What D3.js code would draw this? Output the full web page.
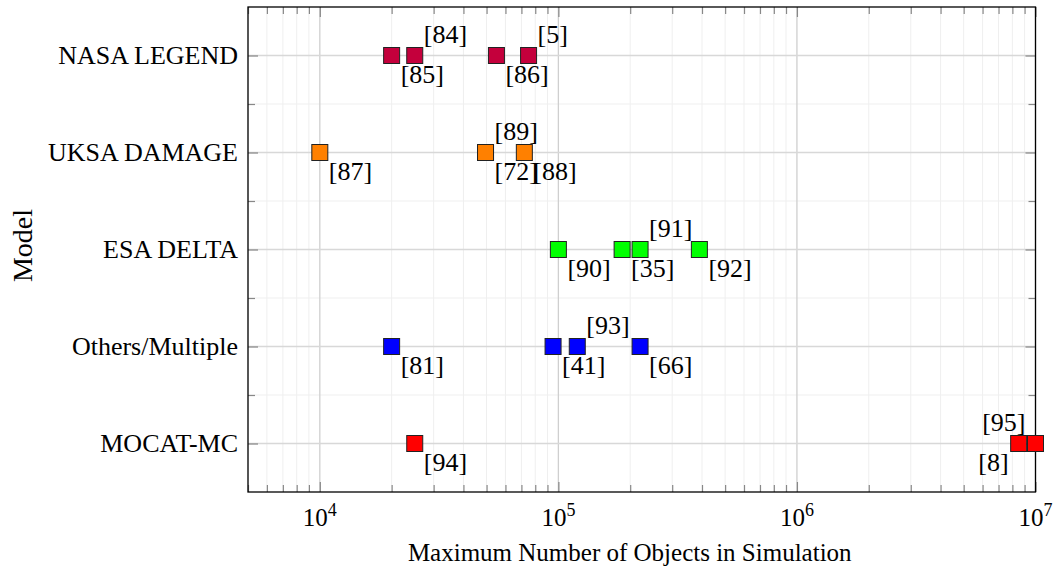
<!DOCTYPE html>
<html>
<head>
<meta charset="utf-8">
<script src="https://cdn.jsdelivr.net/npm/d3@7"></script>
<style>
  body { margin: 0; background: #fff; }
  svg text { font-family: "Liberation Serif", "Times New Roman", serif; fill: #000; }
</style>
</head>
<body>
<svg id="chart" width="1055" height="571"></svg>
<script>
// categories (top to bottom)
const models = ["NASA LEGEND", "UKSA DAMAGE", "ESA DELTA", "Others/Multiple", "MOCAT-MC"];
const modelColors = ["#c4003c", "#ff8000", "#00ff00", "#0000ff", "#ff0000"];

// max number of objects per study, with its reference tag
const legendValues = [20000, 25000, 55000, 75000];
const legendRefs = ["[85]", "[84]", "[86]", "[5]"];
const damageValues = [10000, 49500, 49500, 72000];
const damageRefs = ["[87]", "[89]", "[72]", "[88]"];
const deltaValues = [100000, 185000, 220000, 390000];
const deltaRefs = ["[90]", "[35]", "[91]", "[92]"];
const otherValues = [20000, 95000, 120000, 220000];
const otherRefs = ["[81]", "[41]", "[93]", "[66]"];
const mocatValues = [25000, 8500000, 10000000];
const mocatRefs = ["[94]", "[8]", "[95]"];

// where each tag sits relative to its marker
const legendSide = ["br", "ar", "br", "ar"];
const damageSide = ["br", "ar", "br", "br"];
const deltaSide = ["br", "br", "ar", "br"];
const otherSide = ["br", "br", "ar", "br"];
const mocatSide = ["br", "bl", "al"];

const xTicks = [1e4, 1e5, 1e6, 1e7];

const groups = [
  [legendValues, legendRefs, legendSide],
  [damageValues, damageRefs, damageSide],
  [deltaValues, deltaRefs, deltaSide],
  [otherValues, otherRefs, otherSide],
  [mocatValues, mocatRefs, mocatSide]
];
let points = [];
groups.forEach(function(g, m) {
  g[0].forEach(function(v, i) {
    points.push({model: m, value: v, ref: g[1][i], side: g[2][i]});
  });
});

const margin = {left: 248, top: 7, right: 19.5, bottom: 79};
const W = 1055, H = 571;
const iw = W - margin.left - margin.right;
const ih = H - margin.top - margin.bottom;

const svg = d3.select("#chart");
const g = svg.append("g").attr("transform", `translate(${margin.left},${margin.top})`);

const x = d3.scaleLog().domain([5000, 1e7]).range([0, iw]);
const y = d3.scaleLinear().domain([-0.5, models.length - 0.5]).range([0, ih]);

// minor x values 2..9 x 10^k
let minorX = [];
for (let k = 3; k < 7; k++) {
  for (let m = 2; m <= 9; m++) {
    let v = m * Math.pow(10, k);
    if (v >= 5000 && v < 1e7) minorX.push(v);
  }
}
const catY = d3.range(models.length);
const midY = d3.range(models.length - 1).map(i => i + 0.5);

// grid
g.append("g").selectAll("line").data(minorX).enter().append("line")
  .attr("x1", d => x(d)).attr("x2", d => x(d)).attr("y1", 0).attr("y2", ih)
  .attr("stroke", "#efefef").attr("stroke-width", 1);
g.append("g").selectAll("line").data(midY).enter().append("line")
  .attr("x1", 0).attr("x2", iw).attr("y1", d => y(d)).attr("y2", d => y(d))
  .attr("stroke", "#efefef").attr("stroke-width", 1.2);
g.append("g").selectAll("line").data(xTicks).enter().append("line")
  .attr("x1", d => x(d)).attr("x2", d => x(d)).attr("y1", 0).attr("y2", ih)
  .attr("stroke", "#cfcfcf").attr("stroke-width", 1.3);
g.append("g").selectAll("line").data(catY).enter().append("line")
  .attr("x1", 0).attr("x2", iw).attr("y1", d => y(d)).attr("y2", d => y(d))
  .attr("stroke", "#d8d8d8").attr("stroke-width", 1.6);

// ticks (inside, on all four sides)
function tickStyle(sel) {
  sel.select(".domain").remove();
  sel.selectAll("line").attr("stroke", "#888").attr("stroke-width", 1.2);
  sel.selectAll("text").remove();
}
g.append("g").attr("transform", `translate(0,${ih})`)
  .call(d3.axisBottom(x).tickValues(minorX).tickSize(-7).tickFormat("")).call(tickStyle);
g.append("g").attr("transform", `translate(0,${ih})`)
  .call(d3.axisBottom(x).tickValues(xTicks).tickSize(-10).tickFormat("")).call(tickStyle);
g.append("g")
  .call(d3.axisTop(x).tickValues(minorX).tickSize(-7).tickFormat("")).call(tickStyle);
g.append("g")
  .call(d3.axisTop(x).tickValues(xTicks).tickSize(-10).tickFormat("")).call(tickStyle);
g.append("g")
  .call(d3.axisLeft(y).tickValues(catY).tickSize(-10).tickFormat("")).call(tickStyle);
g.append("g")
  .call(d3.axisLeft(y).tickValues(midY).tickSize(-7).tickFormat("")).call(tickStyle);
g.append("g").attr("transform", `translate(${iw},0)`)
  .call(d3.axisRight(y).tickValues(catY).tickSize(-10).tickFormat("")).call(tickStyle);
g.append("g").attr("transform", `translate(${iw},0)`)
  .call(d3.axisRight(y).tickValues(midY).tickSize(-7).tickFormat("")).call(tickStyle);

// frame
g.append("rect").attr("width", iw).attr("height", ih)
  .attr("fill", "none").attr("stroke", "#000").attr("stroke-width", 1.3);

// x tick labels 10^k
const xl = g.append("g").selectAll("text").data(xTicks).enter().append("text")
  .attr("x", d => x(d)).attr("y", ih + 34)
  .attr("text-anchor", "middle").attr("font-size", 25);
xl.append("tspan").text("10");
xl.append("tspan").text(d => Math.round(Math.log10(d)))
  .attr("font-size", 18).attr("dy", -10);

// y tick labels
g.append("g").selectAll("text").data(models).enter().append("text")
  .attr("x", -10).attr("y", (d, i) => y(i) + 8)
  .attr("text-anchor", "end").attr("font-size", 26)
  .text(d => d);

// axis titles
g.append("text").attr("x", iw / 2 - 12).attr("y", ih + 69)
  .attr("text-anchor", "middle").attr("font-size", 25)
  .text("Maximum Number of Objects in Simulation");
g.append("text")
  .attr("transform", `translate(${32 - margin.left},${ih / 2 - 4}) rotate(-90)`)
  .attr("text-anchor", "middle").attr("font-size", 28)
  .text("Model");

// markers
const S = 16;
g.append("g").selectAll("rect").data(points).enter().append("rect")
  .attr("x", d => x(d.value) - S / 2).attr("y", d => y(d.model) - S / 2)
  .attr("width", S).attr("height", S)
  .attr("fill", d => modelColors[d.model])
  .attr("stroke", "#222").attr("stroke-width", 1);

// reference tags
g.append("g").selectAll("text").data(points).enter().append("text")
  .attr("font-size", 26)
  .attr("text-anchor", d => d.side[1] == "r" ? "start" : "end")
  .attr("x", d => x(d.value) + (d.side[1] == "r" ? 9 : -10))
  .attr("y", d => y(d.model) + (d.side[0] == "a" ? -13 : 27))
  .text(d => d.ref);
</script>
</body>
</html>
